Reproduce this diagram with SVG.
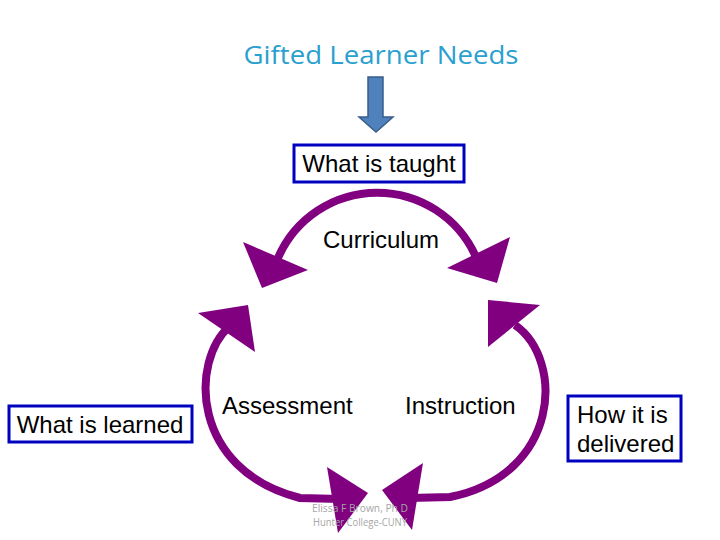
<svg xmlns="http://www.w3.org/2000/svg" width="720" height="540" viewBox="0 0 720 540">
<style>
.lbl{font-family:"Liberation Sans",Arial,sans-serif;font-size:24px;fill:#000}
.box{fill:#fff;stroke:#0000c0;stroke-width:3}
.arc{fill:none;stroke:#800080;stroke-width:8}
.head{fill:#800080}
.wm{font-family:"Open Sans","Noto Sans",sans-serif;font-size:10px;fill:#a6a6a6}
</style>
<rect width="720" height="540" fill="#fff"/>
<g id="title">
<text x="381" y="64" text-anchor="middle" font-family="'Open Sans','Noto Sans',sans-serif" font-size="26" fill="#2aa0d0" textLength="275" lengthAdjust="spacingAndGlyphs">Gifted Learner Needs</text>
</g>
<g id="down-arrow">
<polygon points="368,77 383,77 383,117 393,117 376,132 359,117 368,117" fill="#4f81bd" stroke="#385d8a" stroke-width="1.5"/>
</g>
<g id="taught">
<rect class="box" x="294" y="145" width="170" height="37"/>
<text class="lbl" x="379" y="172" text-anchor="middle">What is taught</text>
</g>
<g id="learned">
<rect class="box" x="9" y="406" width="183" height="36"/>
<text class="lbl" x="100" y="433" text-anchor="middle">What is learned</text>
</g>
<g id="delivered">
<rect class="box" x="568" y="396" width="113" height="65"/>
<text class="lbl" x="577" y="423">How it is</text>
<text class="lbl" x="577" y="452">delivered</text>
</g>
<g id="connectors">
<path class="arc" d="M 278 258 A 108 108 0 0 1 476 257"/>
<polygon class="head" points="243,242 262,288 308,270"/>
<polygon class="head" points="510,237 497,283 447,268"/>
<path class="arc" d="M 230 326 C 190 360 190 470 300 498 L 340 499"/>
<polygon class="head" points="198,313 248,305 255,352"/>
<polygon class="head" points="327,467 368,493 338,533"/>
<path class="arc" d="M 515 325 C 565 360 560 475 450 497 L 410 498"/>
<polygon class="head" points="488,300 540,305 488,347"/>
<polygon class="head" points="382,490 423,463 412,530"/>
</g>
<g id="curriculum"><text class="lbl" x="381" y="248" text-anchor="middle">Curriculum</text></g>
<g id="assessment"><text class="lbl" x="222" y="414">Assessment</text></g>
<g id="instruction"><text class="lbl" x="405" y="414">Instruction</text></g>
<g id="watermark">
<text class="wm" x="360" y="512" text-anchor="middle" textLength="96" lengthAdjust="spacingAndGlyphs">Elissa F Brown, Ph D</text>
<text class="wm" x="360" y="526" text-anchor="middle" textLength="94" lengthAdjust="spacingAndGlyphs">Hunter College-CUNY</text>
</g>
</svg>
